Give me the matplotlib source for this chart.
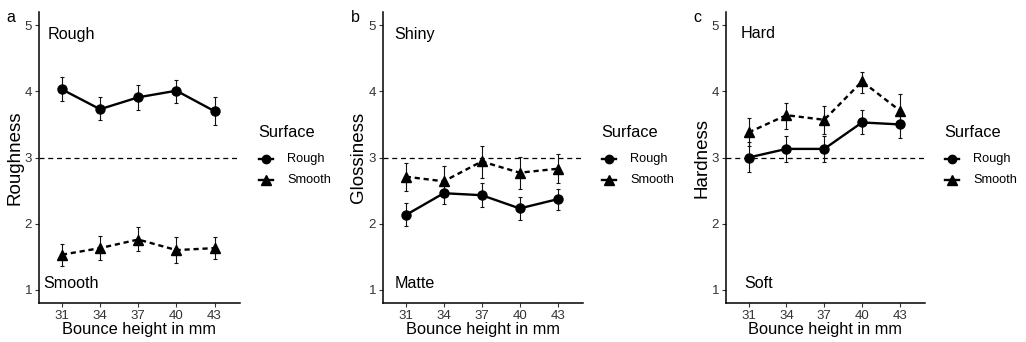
import numpy as np
import matplotlib
matplotlib.use('Agg')
import matplotlib.pyplot as plt
from matplotlib.lines import Line2D

plt.rcParams['font.family'] = ['Liberation Sans', 'DejaVu Sans']

heights = [31, 34, 37, 40, 43]

# panel a - roughness
rough_a = [4.03, 3.73, 3.91, 4.01, 3.70]
rough_a_lo = [3.86, 3.56, 3.72, 3.83, 3.49]
rough_a_hi = [4.21, 3.91, 4.10, 4.17, 3.92]
smooth_a = [1.53, 1.63, 1.76, 1.60, 1.63]
smooth_a_lo = [1.36, 1.45, 1.58, 1.40, 1.46]
smooth_a_hi = [1.69, 1.81, 1.95, 1.80, 1.80]

# panel b - glossiness
rough_b = [2.13, 2.46, 2.43, 2.23, 2.37]
rough_b_lo = [1.96, 2.30, 2.25, 2.06, 2.21]
rough_b_hi = [2.31, 2.62, 2.62, 2.40, 2.52]
smooth_b = [2.71, 2.64, 2.94, 2.77, 2.83]
smooth_b_lo = [2.49, 2.41, 2.69, 2.53, 2.61]
smooth_b_hi = [2.91, 2.87, 3.18, 3.01, 3.06]

# panel c - hardness
rough_c = [3.00, 3.13, 3.13, 3.53, 3.50]
rough_c_lo = [2.78, 2.93, 2.93, 3.35, 3.30]
rough_c_hi = [3.23, 3.33, 3.33, 3.72, 3.69]
smooth_c = [3.38, 3.64, 3.57, 4.15, 3.71]
smooth_c_lo = [3.17, 3.43, 3.36, 3.97, 3.49]
smooth_c_hi = [3.60, 3.83, 3.78, 4.30, 3.96]

legend_labels = ['Rough', 'Smooth']

panels = [
    ('a', 'Roughness', 'Rough', 'Smooth', rough_a, rough_a_lo, rough_a_hi, smooth_a, smooth_a_lo, smooth_a_hi),
    ('b', 'Glossiness', 'Shiny', 'Matte', rough_b, rough_b_lo, rough_b_hi, smooth_b, smooth_b_lo, smooth_b_hi),
    ('c', 'Hardness', 'Hard', 'Soft', rough_c, rough_c_lo, rough_c_hi, smooth_c, smooth_c_lo, smooth_c_hi),
]

W, H = 1026, 342
fig = plt.figure(figsize=(W / 100, H / 100), dpi=100)

# pixel positions of the three plot areas
lefts = [39, 383, 726]
rights = [240, 583, 925]
top, bottom = 12, 303
legend_x = [258, 601, 944]
label_x = [6, 351, 693]
hi_x = [48, 394, 741]
lo_x = [43, 395, 744]


def fx(px):
    return px / W


def fy(py):
    return (H - py) / H


LW = 1.7
for i, (tag, ylab, hi_txt, lo_txt, r, rlo, rhi, s, slo, shi) in enumerate(panels):
    ax = fig.add_axes([fx(lefts[i]), fy(bottom),
                       (rights[i] - lefts[i]) / W, (bottom - top) / H])
    ax.axhline(3, color='black', lw=0.9, ls=(0, (4, 3)))

    r = np.array(r); s = np.array(s)
    ax.errorbar(heights, r, yerr=[r - np.array(rlo), np.array(rhi) - r],
                fmt='none', ecolor='#111111', elinewidth=0.8, capsize=1.6, capthick=0.8)
    ax.errorbar(heights, s, yerr=[s - np.array(slo), np.array(shi) - s],
                fmt='none', ecolor='#111111', elinewidth=0.8, capsize=1.6, capthick=0.8)
    ax.plot(heights, r, color='black', lw=LW, marker='o', ms=6.5)
    ax.plot(heights, s, color='black', lw=LW, ls=(0, (2.2, 1.6)), marker='^', ms=7.5)

    ax.set_xlim(29.2, 45.0)
    ax.set_ylim(0.8, 5.2)
    ax.set_xticks(heights)
    ax.set_yticks([1, 2, 3, 4, 5])
    ax.spines['top'].set_visible(False)
    ax.spines['right'].set_visible(False)
    ax.spines['left'].set_linewidth(1.1)
    ax.spines['bottom'].set_linewidth(1.1)
    ax.tick_params(length=3, width=0.8, color='#333333', labelsize=9.5,
                   labelcolor='#333333', pad=2)
    ax.set_xlabel('Bounce height in mm', fontsize=11.8, labelpad=0)
    ax.set_ylabel(ylab, fontsize=13.5, labelpad=1)

    fig.text(fx(hi_x[i]), fy(34), hi_txt, fontsize=11.6, va='center', ha='left')
    fig.text(fx(lo_x[i]), fy(283), lo_txt, fontsize=11.6, va='center', ha='left')
    fig.text(fx(label_x[i]), fy(17), tag, fontsize=11.5, va='center', ha='left')

    # legend drawn by hand
    lx = legend_x[i]
    fig.text(fx(lx), fy(133), 'Surface', fontsize=11.8, va='center', ha='left')
    for j, (lab, mk, ms) in enumerate(zip(legend_labels, ['o', '^'], [6, 7])):
        yy = 159 + 21 * j
        fig.add_artist(Line2D([fx(lx + 1), fx(lx + 15)], [fy(yy), fy(yy)],
                              color='black', lw=LW, transform=fig.transFigure))
        fig.add_artist(Line2D([fx(lx + 8)], [fy(yy)], color='black', marker=mk,
                              ms=ms, lw=0, transform=fig.transFigure))
        fig.text(fx(lx + 29), fy(yy), lab, fontsize=9.2, va='center', ha='left')

fig.savefig('out.png', dpi=100)
